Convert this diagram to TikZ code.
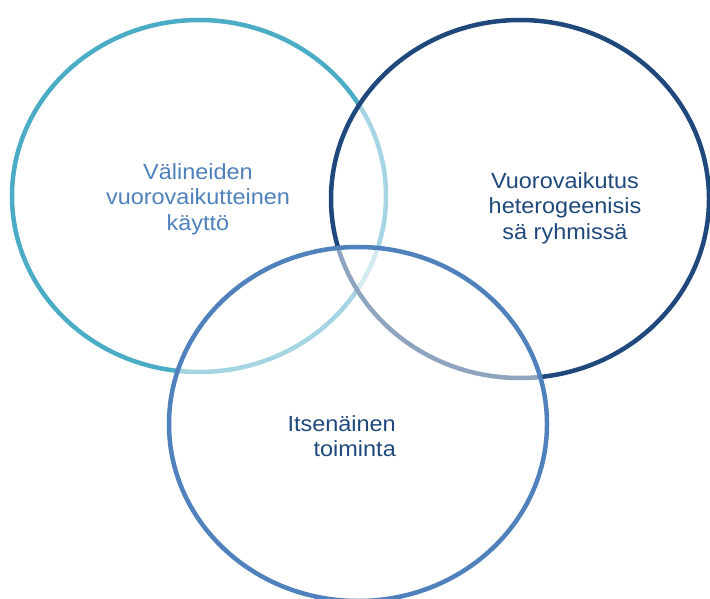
\documentclass[tikz,border=0pt]{standalone}
\usepackage{fontspec}
\setmainfont{Liberation Sans}[FakeStretch=1.07]
\usepackage{xcolor}
\usepackage{tikz}

\definecolor{ringteal}{HTML}{4BACC6}
\definecolor{ringnavy}{HTML}{1F497D}
\definecolor{ringblue}{HTML}{4F81BD}

\begin{document}
\begin{tikzpicture}[x=1bp, y=-1bp,
        ring/.style={line width=4.5bp, fill=white, fill opacity=0.5},
        venntext/.style={inner sep=0pt, font=\fontsize{22}{25.5}\selectfont}]
            \useasboundingbox (0, 0) rectangle (710, 599);

            \draw[ring, draw=ringteal] (199, 196) ellipse [x radius=187bp, y radius=176bp]; % tools
            \draw[ring, draw=ringnavy] (520, 199) ellipse [x radius=189bp, y radius=179bp]; % groups
            \draw[ring, draw=ringblue] (358, 424) ellipse [x radius=189bp, y radius=177bp]; % own work

            \node[venntext, align=center, text=ringblue] (tools) at (198, 199) {Välineiden\\vuorovaikutteinen\\käyttö};
            \node[venntext, align=center, text=ringnavy] (groups) at (565, 208) {Vuorovaikutus\\heterogeenisis\\sä ryhmissä};
            \node[venntext, align=right, text=ringnavy, anchor=east] (ownwork) at (396, 436) {Itsenäinen\\toiminta};
        \end{tikzpicture}
\end{document}
